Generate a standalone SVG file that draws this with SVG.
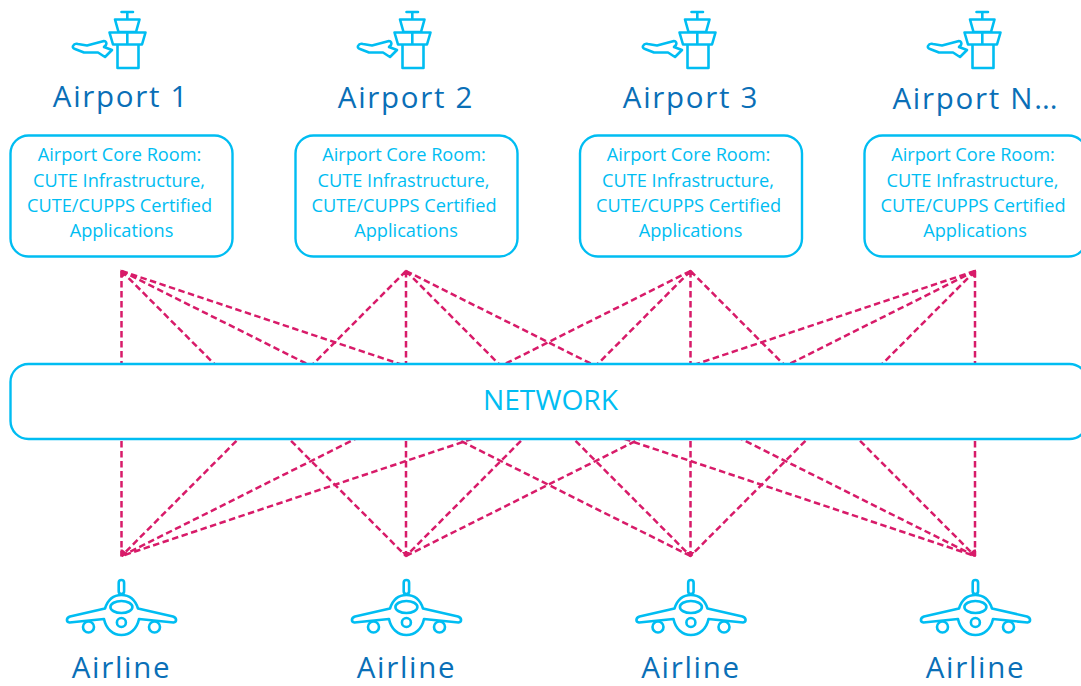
<svg xmlns="http://www.w3.org/2000/svg" width="1081" height="686" viewBox="0 0 1081 686">
<style>
.ico{fill:none;stroke:#00bdf2;stroke-width:2.6;stroke-linejoin:round;stroke-linecap:round}
.box{fill:#fff;stroke:#00bdf2;stroke-width:2.4}
.t{font-family:"Open Sans","Noto Sans",sans-serif;text-anchor:middle}
.head{font-size:29.5px;fill:#0a6fb7;letter-spacing:1.7px}
.body{font-size:18.2px;fill:#00bdf2}
.net{font-size:28.2px;fill:#00bdf2}
.c{stroke:#d81b69;stroke-width:2.5;stroke-dasharray:6.5 3.5;fill:none}
.h{fill:#d81b69}
</style>
<defs>
<g id="tower" class="ico">
<path d="M121.500 12H133M127.300 12V19M115 19.500H139.500L136 32H118.500ZM109.500 32.500H145.500L142 44.500H113ZM127.300 33V44M117.500 44.500V68H138.500V44.500"/>
<path d="M73 46C74 44 76 43.500 78 44L87 45.500L104 41C106 41 107 43 106 45L104 47L112 50L105 57L98 52.500H84L75 49C73 48.500 72.500 47 73 46Z"/>
</g>
<g id="plane" class="ico">
<rect x="118.700" y="580" width="5.400" height="14" rx="2.700"/>
<path d="M105 608.500C108 599 114 595 121.400 595C129 595 135 599 138 608.500L173 616.500C177 618 177 622 173.500 622.500L139 619C137 629 130 635 121.400 635C113 635 106 629 104 619L69.500 622.500C66 622 66 618 70 616.500Z"/>
<ellipse cx="121.400" cy="607" rx="11" ry="6"/>
<circle cx="121.400" cy="622.500" r="4.500"/>
<circle cx="88.500" cy="627" r="5.500"/>
<circle cx="154.500" cy="627" r="5.500"/>
</g>
</defs>
<g id="connectors">
<path class="c" d="M121.500 271V556"/><path class="c" d="M121.500 271L406 556"/><path class="c" d="M121.500 271L690.500 556"/><path class="c" d="M121.500 271L975 556"/>
<path class="c" d="M406 271L121.500 556"/><path class="c" d="M406 271V556"/><path class="c" d="M406 271L690.500 556"/><path class="c" d="M406 271L975 556"/>
<path class="c" d="M690.500 271L121.500 556"/><path class="c" d="M690.500 271L406 556"/><path class="c" d="M690.500 271V556"/><path class="c" d="M690.500 271L975 556"/>
<path class="c" d="M975 271L121.500 556"/><path class="c" d="M975 271L406 556"/><path class="c" d="M975 271L690.500 556"/><path class="c" d="M975 271V556"/>
<path class="h" d="M120.500 269.500L127.500 273L122.500 277.500H120.500Z"/>
<path class="h" d="M406 269.500L410 275H402Z"/>
<path class="h" d="M690.500 269.500L694.500 275H686.500Z"/>
<path class="h" d="M976 269.500L969 273L974 277.500H976Z"/>
<path class="h" d="M120.500 557L127.500 553.500L122.500 549.500H120.500Z"/>
<path class="h" d="M406 557.500L410 552H402Z"/>
<path class="h" d="M690.500 557.500L694.500 552H686.500Z"/>
<path class="h" d="M976 557L969 553.500L974 549.500H976Z"/>
</g>
<g id="airport1"><use href="#tower"/><text class="t head" x="121" y="107">Airport 1</text></g>
<g id="airport2"><use href="#tower" x="285"/><text class="t head" x="406" y="108">Airport 2</text></g>
<g id="airport3"><use href="#tower" x="570"/><text class="t head" x="691" y="108">Airport 3</text></g>
<g id="airportN"><use href="#tower" x="855"/><text class="t head" x="975" y="109">Airport N<tspan letter-spacing="0">...</tspan></text></g>
<g id="core1"><rect class="box" x="10.500" y="135.500" width="222" height="121" rx="18"/><text class="t body"><tspan x="119.500" y="161">Airport Core Room:</tspan><tspan x="119" y="186.500">CUTE Infrastructure,</tspan><tspan x="119.500" y="212">CUTE/CUPPS Certified</tspan><tspan x="121.500" y="237">Applications</tspan></text></g>
<g id="core2"><rect class="box" x="295.500" y="135.500" width="222" height="121" rx="18"/><text class="t body"><tspan x="404" y="161">Airport Core Room:</tspan><tspan x="403.500" y="186.500">CUTE Infrastructure,</tspan><tspan x="404" y="212">CUTE/CUPPS Certified</tspan><tspan x="406" y="237">Applications</tspan></text></g>
<g id="core3"><rect class="box" x="580" y="135.500" width="222" height="121" rx="18"/><text class="t body"><tspan x="688.500" y="161">Airport Core Room:</tspan><tspan x="688" y="186.500">CUTE Infrastructure,</tspan><tspan x="688.500" y="212">CUTE/CUPPS Certified</tspan><tspan x="690.500" y="237">Applications</tspan></text></g>
<g id="core4"><rect class="box" x="864.500" y="135.500" width="222" height="121" rx="18"/><text class="t body"><tspan x="973" y="161">Airport Core Room:</tspan><tspan x="972.500" y="186.500">CUTE Infrastructure,</tspan><tspan x="973" y="212">CUTE/CUPPS Certified</tspan><tspan x="975" y="237">Applications</tspan></text></g>
<g id="network"><rect class="box" x="10.500" y="364" width="1077" height="75" rx="18"/><text class="t net" x="550.500" y="410">NETWORK</text></g>
<g id="airline1"><use href="#plane"/><text class="t head" x="121.500" y="678">Airline</text></g>
<g id="airline2"><use href="#plane" x="285"/><text class="t head" x="406.500" y="678">Airline</text></g>
<g id="airline3"><use href="#plane" x="569.500"/><text class="t head" x="691" y="678">Airline</text></g>
<g id="airline4"><use href="#plane" x="854"/><text class="t head" x="975.500" y="678">Airline</text></g>
</svg>
